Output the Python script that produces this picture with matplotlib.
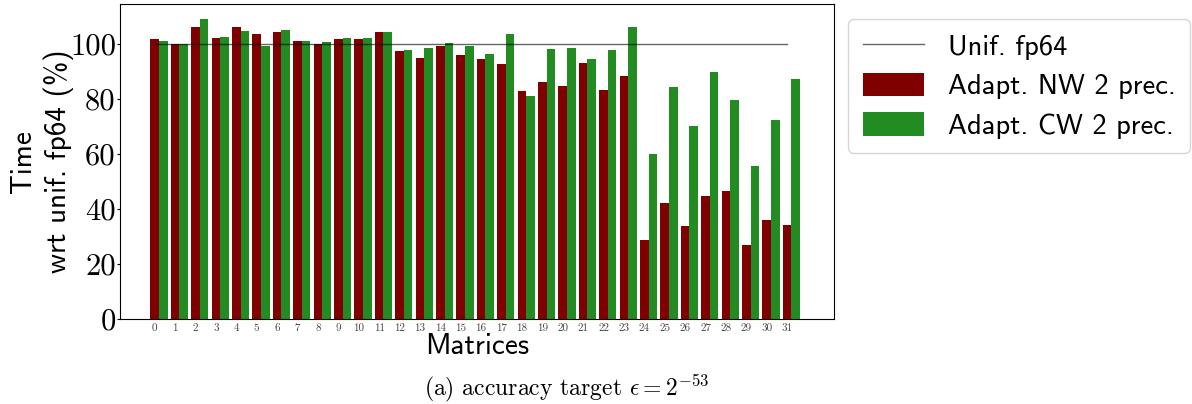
import numpy as np
import matplotlib.pyplot as plt

# run time of each adaptive variant, relative to uniform fp64 (%)
matrices = list(range(32))
nw_2prec = [101.8, 100.0, 106.2, 102.2, 106.2, 103.6, 104.4, 101.1,
            100.0, 101.8, 101.8, 104.4, 97.5, 94.9, 99.3, 96.0,
            94.5, 92.7, 82.9, 86.2, 84.7, 93.1, 83.3, 88.4,
            28.7, 42.2, 33.8, 44.7, 46.5, 26.9, 36.0, 34.2]
cw_2prec = [101.1, 100.0, 109.1, 102.5, 104.7, 99.4, 105.1, 101.1,
            100.7, 102.2, 102.2, 104.4, 97.8, 98.5, 100.4, 99.3,
            96.4, 103.6, 81.1, 98.2, 98.5, 94.5, 97.8, 106.2,
            60.0, 84.4, 70.2, 89.8, 79.6, 55.6, 72.4, 87.3]
reference = 100

sans = 'cmss10'
serif = 'cmr10'
plt.rcParams['axes.unicode_minus'] = False
plt.rcParams['mathtext.fontset'] = 'cm'

fig = plt.figure(figsize=(11.92, 4.04), dpi=100)
ax = fig.add_axes([0.1007, 0.2104, 0.599, 0.7796])

x = np.arange(len(matrices))
w = 0.42
ax.plot([x[0], x[-1]], [reference, reference], color='black', lw=1, alpha=0.6,
        label='Unif. fp64')
ax.bar(x, nw_2prec, width=w, color='#800000', label='Adapt. NW 2 prec.')
ax.bar(x + w, cw_2prec, width=w, color='#228b22', label='Adapt. CW 2 prec.')

ax.set_xlim(-1.7, 33.3)
ax.set_ylim(0, 114.5)
ax.set_xticks(x)
ax.set_xticklabels([str(m) for m in matrices], fontfamily=serif, fontsize=8,
                   color='#444444')
ax.set_yticks(range(0, 101, 20))
ax.set_yticklabels([str(v) for v in range(0, 101, 20)], fontfamily=serif,
                   fontsize=22)
ax.tick_params(axis='x', length=0, pad=3)
ax.tick_params(axis='y', length=2, pad=1)

ax.set_xlabel('Matrices', fontfamily=sans, fontsize=21, labelpad=0)
ax.set_ylabel('Time\nwrt unif. fp64 (%)', fontfamily=sans, fontsize=21,
              labelpad=-3, linespacing=1.3)

ax.legend(loc='upper left', bbox_to_anchor=(1.02, 0.952), prop={'family': sans,
          'size': 20.5}, handlelength=2.15, handleheight=0.9,
          handletextpad=0.85, fancybox=True, borderpad=0.5,
          labelspacing=0.45, borderaxespad=0)

fig.text(0.475, 0.04, r'(a) accuracy target $\epsilon = 2^{-53}$',
         fontfamily=serif, fontsize=17, ha='center', va='center')

fig.savefig('out.png', dpi=100)
